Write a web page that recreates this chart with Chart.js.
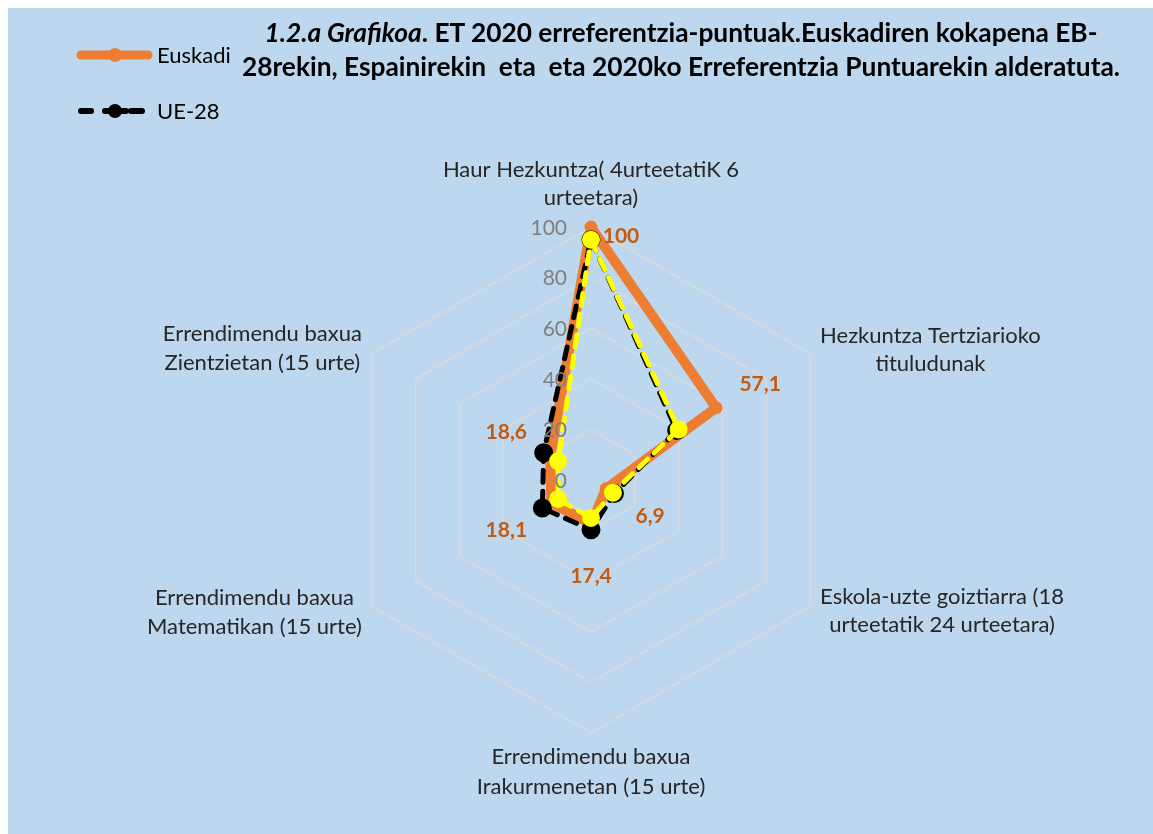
<!DOCTYPE html>
<html><head><meta charset="utf-8">
<script src="https://cdn.jsdelivr.net/npm/chart.js@4/dist/chart.umd.min.js"></script>
<style>
html,body{margin:0;padding:0;background:#fff;width:1153px;height:834px;overflow:hidden;}
#bg{position:absolute;left:8px;top:8px;width:1145px;height:826px;background:#BDD7EE;}
#c{position:absolute;left:0;top:0;}
#title{position:absolute;left:131px;width:1100px;top:15px;text-align:center;font-family:Lato,sans-serif;font-weight:bold;font-size:26.3px;line-height:34px;color:#000;white-space:pre;}
.legtxt{position:absolute;font-family:Lato,sans-serif;font-size:22px;color:#000;line-height:22px;}
.legsvg{position:absolute;}
</style></head><body>
<div id="bg"></div>
<canvas id="c" width="1153" height="834"></canvas>
<div id="title"><i>1.2.a Grafikoa</i>. ET 2020 erreferentzia-puntuak.Euskadiren kokapena EB-
28rekin, Espainirekin  eta  eta 2020ko Erreferentzia Puntuarekin alderatuta.</div>
<svg class="legsvg" style="left:70px;top:44px" width="90" height="22">
  <line x1="11" y1="11" x2="78" y2="11" stroke="#ED7D31" stroke-width="9" stroke-linecap="round"/>
  <circle cx="45" cy="11" r="7" fill="#ED7D31"/>
</svg>
<div class="legtxt" style="left:157px;top:44px">Euskadi</div>
<svg class="legsvg" style="left:70px;top:100px" width="90" height="22">
  <line x1="11" y1="11" x2="21" y2="11" stroke="#000" stroke-width="6" stroke-linecap="round"/>
  <line x1="35" y1="11" x2="56" y2="11" stroke="#000" stroke-width="6" stroke-linecap="round"/>
  <line x1="61" y1="11" x2="72" y2="11" stroke="#000" stroke-width="6" stroke-linecap="round"/>
  <circle cx="45" cy="11" r="7" fill="#000"/>
</svg>
<div class="legtxt" style="left:157px;top:100px">UE-28</div>
<script>
const categories = [
  ["Haur Hezkuntza( 4urteetatiK 6", "urteetara)"],
  ["Hezkuntza Tertziarioko", "tituludunak"],
  ["Eskola-uzte goiztiarra (18", "urteetatik 24 urteetara)"],
  ["Errendimendu baxua", "Irakurmenetan (15 urte)"],
  ["Errendimendu baxua", "Matematikan (15 urte)"],
  ["Errendimendu baxua", "Zientzietan (15 urte)"]
];
const euskadi = [100, 57.1, 6.9, 17.4, 18.1, 18.6];
const ue28 = [95, 39.1, 10.7, 19.7, 22.2, 21.6];
const erreferentzia2020 = [95, 40, 10, 15, 15, 15];
const euskadiLabels = ["100", "57,1", "6,9", "17,4", "18,1", "18,6"];
const tickLabels = ["0", "20", "40", "60", "80", "100"];

// style: data label offsets from Euskadi points
const dlOffsets = [[30, 9], [44, -24], [44, 28], [0, 52], [-45, 27], [-44, -24]];
// style: point label line offsets from outer vertex
const plStyle = [
  {align: 'center', dx: 0, dy: [-57, -29]},
  {align: 'left', dx: 10, dy: [-18, 10]},
  {align: 'left', dx: 10, dy: [-10, 18]},
  {align: 'center', dx: 0, dy: [24, 54]},
  {align: 'right', dx: -10, dy: [-9, 20]},
  {align: 'right', dx: -10, dy: [-20, 9]}
];

const overlayPlugin = {
  id: 'overlay',
  afterDatasetsDraw(chart) {
    const ctx = chart.ctx;
    const scale = chart.scales.r;
    ctx.save();
    // tick labels
    ctx.font = '21px Lato, sans-serif';
    ctx.fillStyle = '#7F7F7F';
    ctx.textAlign = 'right';
    ctx.textBaseline = 'middle';
    tickLabels.forEach(t => {
      const d = scale.getDistanceFromCenterForValue(Number(t));
      ctx.fillText(t, scale.xCenter - 24, scale.yCenter - d + 1);
    });
    // point labels
    ctx.font = '22px Lato, sans-serif';
    ctx.fillStyle = '#262626';
    categories.forEach((lines, i) => {
      const p = scale.getPointPosition(i, scale.drawingArea);
      const st = plStyle[i];
      const w = Math.max(...lines.map(l => ctx.measureText(l).width));
      let cx;
      if (st.align === 'center') cx = p.x;
      else if (st.align === 'left') cx = p.x + st.dx + w / 2;
      else cx = p.x + st.dx - w / 2;
      ctx.textAlign = 'center';
      lines.forEach((l, j) => ctx.fillText(l, cx, p.y + st.dy[j]));
    });
    // data labels for Euskadi
    const meta = chart.getDatasetMeta(2);
    ctx.font = 'bold 21px Lato, sans-serif';
    ctx.fillStyle = '#C55A11';
    ctx.textAlign = 'center';
    meta.data.forEach((pt, i) => {
      ctx.fillText(euskadiLabels[i], pt.x + dlOffsets[i][0], pt.y + dlOffsets[i][1]);
    });
    ctx.restore();
  }
};

new Chart(document.getElementById('c'), {
  type: 'radar',
  data: {
    labels: categories,
    datasets: [
      {
        label: '2020ko Erreferentzia Puntua',
        data: erreferentzia2020,
        borderColor: '#FFFF00',
        backgroundColor: '#FFFF00',
        pointBackgroundColor: '#FFFF00',
        pointBorderColor: '#FFFF00',
        borderWidth: 5,
        borderDash: [12, 9],
        borderCapStyle: 'round',
        pointRadius: 6.5,
        fill: false,
        order: 0
      },
      {
        label: 'UE-28',
        data: ue28,
        borderColor: '#000000',
        backgroundColor: '#000000',
        pointBackgroundColor: '#000000',
        pointBorderColor: '#000000',
        borderWidth: 5,
        borderDash: [12, 9],
        borderCapStyle: 'round',
        pointRadius: 7,
        fill: false,
        order: 1
      },
      {
        label: 'Euskadi',
        data: euskadi,
        borderColor: '#ED7D31',
        backgroundColor: '#ED7D31',
        pointBackgroundColor: '#ED7D31',
        pointBorderColor: '#ED7D31',
        borderWidth: 10,
        borderJoinStyle: 'round',
        pointRadius: 6.5,
        pointBorderWidth: 0,
        fill: false,
        order: 2
      }
    ]
  },
  options: {
    responsive: false,
    animation: false,
    layout: {padding: {left: 338, right: 309, top: 227, bottom: 101}},
    plugins: {legend: {display: false}, title: {display: false}, tooltip: {enabled: false}},
    elements: {line: {tension: 0}},
    scales: {
      r: {
        min: 0, max: 100,
        ticks: {display: false, stepSize: 20},
        angleLines: {display: false},
        grid: {color: '#D9D9D9', lineWidth: 1.5},
        pointLabels: {display: false}
      }
    }
  },
  plugins: [overlayPlugin]
});
</script>
</body></html>
